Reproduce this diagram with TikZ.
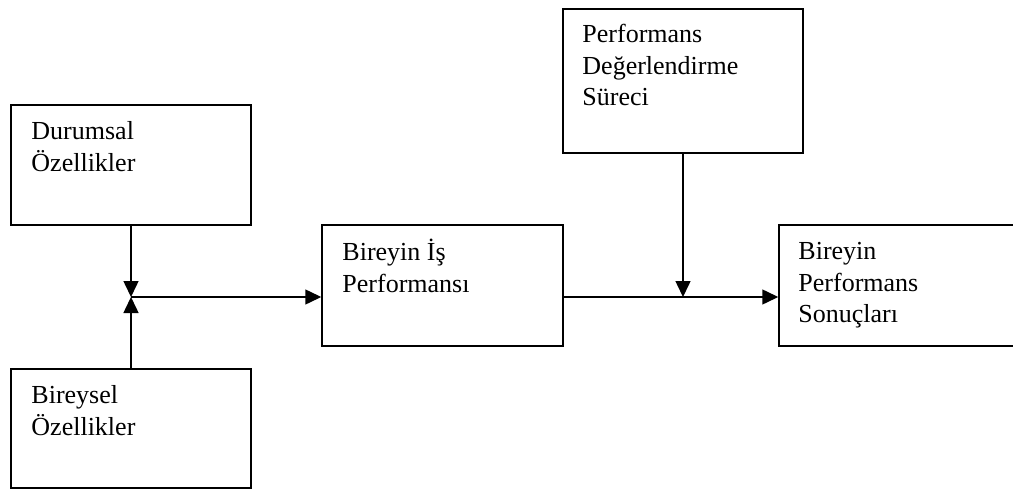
\documentclass[tikz,border=0pt]{standalone}
\usepackage{fontspec}
\setmainfont{Liberation Serif}
\usetikzlibrary{arrows.meta,calc}
\begin{document}
\begin{tikzpicture}[x=1pt,y=-1pt,
  box/.style={draw,line width=1.5pt,rectangle,inner sep=0pt},
  txt/.style={anchor=north west,inner sep=0pt,align=left,font=\fontsize{26}{31.5}\selectfont},
  arr/.style={line width=1.5pt,-{Triangle[length=16pt,width=15pt]}},
  ln/.style={line width=1.5pt}]
\useasboundingbox (0,0) rectangle (1013,490);
\clip (0,0) rectangle (1013,490);
% boxes
\node[box,minimum width=240,minimum height=120] (dur) at (131,165) {};
\node[box,minimum width=240,minimum height=119] (bir) at (131,428.5) {};
\node[box,minimum width=241,minimum height=121] (is) at (442.5,285.5) {};
\node[box,minimum width=240,minimum height=144] (deg) at (683,81) {};
\node[box,minimum width=241,minimum height=121] (son) at (899.5,285.5) {};
% texts
\node[txt] (durt) at ($(dur.north west)+(21,13)$) {\strut Durumsal\\\strut Özellikler};
\node[txt] (birt) at ($(bir.north west)+(21,13)$) {\strut Bireysel\\\strut Özellikler};
\node[txt] (ist) at ($(is.north west)+(21,14)$) {\strut Bireyin İş\\\strut Performansı};
\node[txt] (degt) at ($(deg.north west)+(20,12)$) {\strut Performans\\\strut Değerlendirme\\\strut Süreci};
\node[txt] (sont) at ($(son.north west)+(20,13)$) {\strut Bireyin\\\strut Performans\\\strut Sonuçları};
% junctions
\coordinate (j1) at (131,297);
\coordinate (j2) at (683,297);
% connectors
\draw[arr] (dur.south) -- (j1);
\draw[arr] (bir.north) -- (j1);
\draw[arr] (j1) -- (j1 -| is.west);
\draw[ln] (is.east |- j2) -- (j2);
\draw[arr] (j2) -- (j2 -| son.west);
\draw[arr] (deg.south) -- (j2);
\end{tikzpicture}
\end{document}
